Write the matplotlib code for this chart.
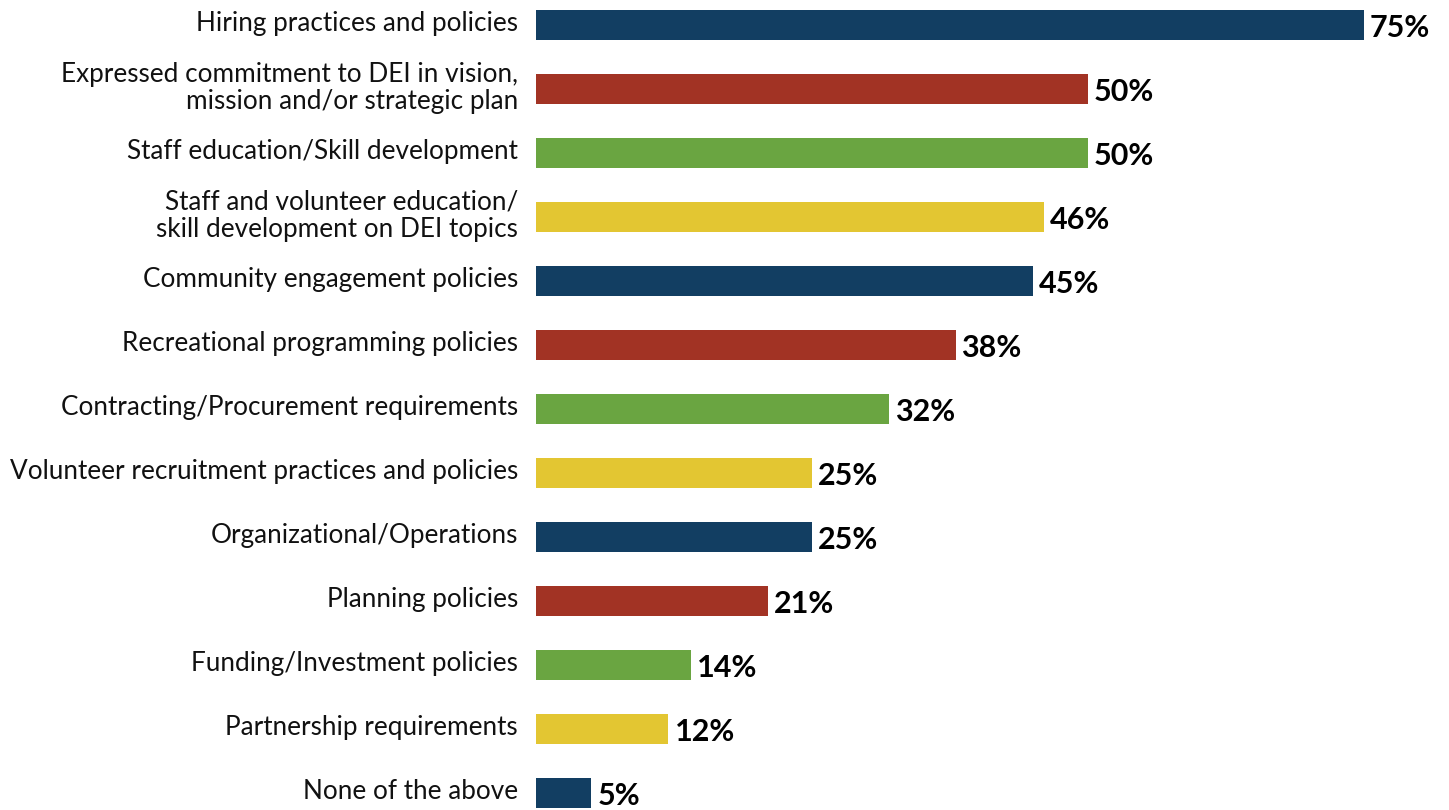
import matplotlib
matplotlib.use("Agg")
import matplotlib.pyplot as plt

categories = [
    "Hiring practices and policies",
    "Expressed commitment to DEI in vision,\nmission and/or strategic plan",
    "Staff education/Skill development",
    "Staff and volunteer education/\nskill development on DEI topics",
    "Community engagement policies",
    "Recreational programming policies",
    "Contracting/Procurement requirements",
    "Volunteer recruitment practices and policies",
    "Organizational/Operations",
    "Planning policies",
    "Funding/Investment policies",
    "Partnership requirements",
    "None of the above",
]
values = [75, 50, 50, 46, 45, 38, 32, 25, 25, 21, 14, 12, 5]
palette = ["#123e62", "#a23324", "#6aa541", "#e3c632"]

W, H = 1449, 810
fig = plt.figure(figsize=(W / 100, H / 100), dpi=100)
ax_left = 536 / W
ax = fig.add_axes([ax_left, 0, 1 - ax_left, 1])

n = len(categories)
pos = list(range(n))
colors = [palette[i % 4] for i in range(n)]
ax.barh(pos, values, height=0.47, color=colors)

px_per_unit = 828 / 75
ax.set_xlim(0, (W - 536) / px_per_unit)
ax.set_ylim(12 + 17 / 64, -25 / 64)
ax.axis("off")

for i, (cat, v) in enumerate(zip(categories, values)):
    ax.text(-18 / px_per_unit, i - 0.02, cat, ha="right", va="center",
            fontsize=18.8, family="Lato", color="#111111", linespacing=1.1)
    ax.text(v + 6 / px_per_unit, i + 0.05, f"{v}%", ha="left", va="center",
            fontsize=22, family="Lato", fontweight="bold", color="#000000")

fig.savefig("out.png", dpi=100)
